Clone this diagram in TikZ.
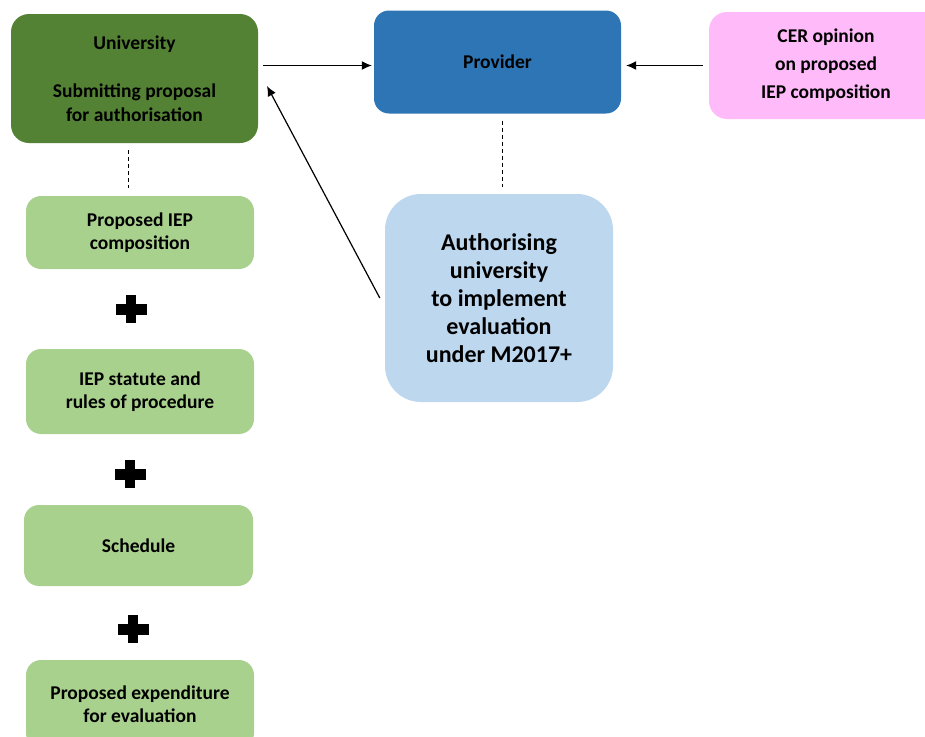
\documentclass[tikz,border=0pt]{standalone}
\usepackage{fontspec}
\setmainfont{Carlito}
\usepackage{tikz}
\usetikzlibrary{calc,arrows.meta}
\definecolor{unigreen}{HTML}{548235}
\definecolor{docgreen}{HTML}{A9D18E}
\definecolor{provblue}{HTML}{2E75B6}
\definecolor{authblue}{HTML}{BDD7EE}
\definecolor{cerpink}{HTML}{FFBBF9}
\tikzset{
  box/.style={rounded corners=18pt, inner sep=0pt, align=center, text=black,
    font=\bfseries\fontsize{19.5}{23.5}\selectfont},
  unibox/.style={box, fill=unigreen, minimum width=247pt, minimum height=129pt},
  provbox/.style={box, fill=provblue, minimum width=247pt, minimum height=103pt, rounded corners=15pt},
  cerbox/.style={box, fill=cerpink, minimum width=234pt, minimum height=107pt,
    font=\bfseries\fontsize{19.5}{28}\selectfont},
  docbox/.style={box, fill=docgreen, minimum width=228pt, rounded corners=15pt},
  authbox/.style={box, fill=authblue, minimum width=228pt, minimum height=208pt, rounded corners=36pt,
    font=\bfseries\fontsize{24}{28}\selectfont},
  arr/.style={draw=black, line width=1.2pt, -{Latex[length=10pt,width=9pt]}},
  dashline/.style={draw=black, line width=1pt, dash pattern=on 4pt off 3pt},
}
\begin{document}
\begin{tikzpicture}[x=1pt,y=-1pt]
  \path[use as bounding box, clip] (0,0) rectangle (925,736);

  \coordinate (U) at (134.5,78.5);
  \coordinate (P) at (497.5,62);
  \coordinate (C) at (826,65.5);
  \coordinate (A) at (499,298);
  \coordinate (tip) at (267,86);

  \node[unibox] (univ) at (U) {University\\[24.5pt]Submitting proposal\\for authorisation};
  \node[provbox] (prov) at (P) {Provider};
  \node[cerbox] (cer) at (C) {CER opinion\\on proposed\\IEP composition};
  \node[authbox] (auth) at (A) {Authorising\\university\\to implement\\evaluation\\under M2017+};

  \node[docbox, minimum height=73pt] (comp) at (140,232.5) {Proposed IEP\\composition};
  \node[docbox, minimum height=85pt] (statute) at (140,391.5) {IEP statute and\\rules of procedure};
  \node[docbox, minimum height=81pt, minimum width=229pt] (sched) at (138.5,545.5) {Schedule};
  \node[docbox, minimum height=88pt] (expend) at (140,704) {Proposed expenditure\\for evaluation};

  % plus signs between the documents
  \foreach \x/\y in {131/309,130/474,133/629}{
    \fill[black] (\x-15.5,\y-5.5) rectangle (\x+15.5,\y+5.5);
    \fill[black] (\x-5,\y-14) rectangle (\x+5,\y+14);
  }

  \draw[arr, shorten <=5pt, shorten >=2pt] ([yshift=-3.5pt]univ.east |- prov.west) -- ([yshift=-3.5pt]prov.west);
  \draw[arr, shorten <=6pt, shorten >=5pt] ([yshift=-3.5pt]cer.west |- prov.east) -- ([yshift=-3.5pt]prov.east);
  \draw[arr] ([xshift=-5pt]auth.west) -- (tip);

  \draw[dashline, shorten <=7pt, shorten >=8pt] ([xshift=-6.5pt]univ.south) -- ([xshift=-6.5pt]univ.south |- comp.north);
  \draw[dashline, shorten <=7pt, shorten >=7pt] ([xshift=4.5pt]prov.south) -- ([xshift=4.5pt]prov.south |- auth.north);
\end{tikzpicture}
\end{document}
